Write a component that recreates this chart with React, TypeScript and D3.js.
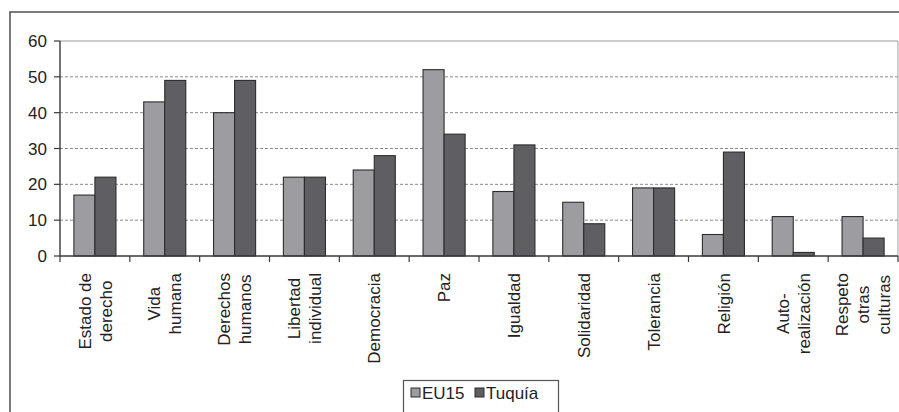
import React from "react";
import * as d3 from "d3";

const categories = [
  "Estado de\nderecho",
  "Vida\nhumana",
  "Derechos\nhumanos",
  "Libertad\nindividual",
  "Democracia",
  "Paz",
  "Igualdad",
  "Solidaridad",
  "Tolerancia",
  "Religión",
  "Auto-\nrealización",
  "Respeto\notras\nculturas",
];
const seriesNames = ["EU15", "Tuquía"];
const eu15 = [17, 43, 40, 22, 24, 52, 18, 15, 19, 6, 11, 11];
const turquia = [22, 49, 49, 22, 28, 34, 31, 9, 19, 29, 1, 5];
const yTicks = [0, 10, 20, 30, 40, 50, 60];

const W = 899;
const H = 412;
const FONT = "'Liberation Sans', Arial, Helvetica, sans-serif";
const FS = 17;
const colors = ["#9d9da1", "#5f5f63"];

function measure(text: string): number {
  if (typeof document === "undefined") return text.length * FS * 0.55;
  const c = document.createElement("canvas");
  const ctx = c.getContext("2d");
  if (!ctx) return text.length * FS * 0.55;
  ctx.font = `${FS}px ${FONT}`;
  return ctx.measureText(text).width;
}

export default function App() {
  const left = 60;
  const right = 898;
  const top = 41;
  const bottom = 256;

  const x0 = d3.scaleBand<number>().domain(d3.range(categories.length)).range([left, right]).padding(0);
  const x1 = d3
    .scaleBand<string>()
    .domain(seriesNames)
    .range([0, x0.bandwidth()])
    .paddingInner(0)
    .paddingOuter(0.66);
  const y = d3.scaleLinear().domain([0, 60]).range([bottom, top]);
  const values = [eu15, turquia];

  const lineH = 21;
  const labelTop = 273;

  return (
    <svg
      width={W}
      height={H}
      style={{ position: "absolute", left: 0, top: 0, background: "#fff" }}
      fontFamily={FONT}
    >
      <rect x={0} y={0} width={W} height={H} fill="#fff" />
      {/* outer chart border */}
      <rect x={10} y={12} width={W + 20} height={H + 20} fill="none" stroke="#5a5a5a" strokeWidth={1.6} />

      {/* gridlines */}
      {yTicks
        .filter((t) => t > 0 && t < 60)
        .map((t) => (
          <line
            key={"g" + t}
            x1={left}
            x2={right}
            y1={y(t)}
            y2={y(t)}
            stroke="#8a8a8a"
            strokeWidth={1}
            strokeDasharray="3,2"
          />
        ))}
      {/* plot area top and right border */}
      <line x1={left} x2={right} y1={y(60)} y2={y(60)} stroke="#9a9a9a" strokeWidth={1.2} />
      <line x1={right} x2={right} y1={top} y2={bottom} stroke="#b0b0b0" strokeWidth={1.2} />

      {/* bars */}
      {categories.map((c, i) => (
        <g key={"b" + i}>
          {seriesNames.map((s, j) => {
            const v = values[j][i];
            const bx = (x0(i) as number) + (x1(s) as number);
            return (
              <rect
                key={s}
                x={bx}
                y={y(v)}
                width={x1.bandwidth()}
                height={bottom - y(v)}
                fill={colors[j]}
                stroke="#2c2c2c"
                strokeWidth={1.1}
              />
            );
          })}
        </g>
      ))}

      {/* axes */}
      <line x1={left} x2={left} y1={top} y2={bottom} stroke="#3a3a3a" strokeWidth={1.4} />
      <line x1={left} x2={right} y1={bottom} y2={bottom} stroke="#3a3a3a" strokeWidth={1.4} />
      {yTicks.map((t) => (
        <g key={"yt" + t}>
          <line x1={left - 6} x2={left} y1={y(t)} y2={y(t)} stroke="#3a3a3a" strokeWidth={1.2} />
          <text
            x={left - 13}
            y={y(t)}
            dy="0.36em"
            textAnchor="end"
            fontSize={FS}
            fill="#222"
          >
            {t}
          </text>
        </g>
      ))}
      {d3.range(categories.length + 1).map((i) => {
        const xx = i < categories.length ? (x0(i) as number) : right;
        return (
          <line key={"xt" + i} x1={xx} x2={xx} y1={bottom} y2={bottom + 6} stroke="#3a3a3a" strokeWidth={1.2} />
        );
      })}

      {/* category labels */}
      {categories.map((c, i) => {
        const lines = c.split("\n");
        const maxW = Math.max(...lines.map(measure));
        const cx = (x0(i) as number) + x0.bandwidth() / 2;
        const cy = labelTop + maxW / 2;
        return (
          <g key={"l" + i}>
            {lines.map((ln, k) => {
              const lx = cx + (k - (lines.length - 1) / 2) * lineH;
              return (
                <text
                  key={k}
                  transform={`translate(${lx},${cy}) rotate(-90)`}
                  dy="0.36em"
                  textAnchor="middle"
                  fontSize={FS}
                  fill="#222"
                >
                  {ln}
                </text>
              );
            })}
          </g>
        );
      })}

      {/* legend */}
      <rect x={403.5} y={380.5} width={155} height={40} fill="#fff" stroke="#555" strokeWidth={1.2} />
      {seriesNames.map((s, j) => {
        const sx = j === 0 ? 411 : 475;
        return (
          <g key={"lg" + s}>
            <rect x={sx} y={388} width={9} height={9} fill={colors[j]} stroke="#2c2c2c" strokeWidth={1} />
            <text x={sx + 11} y={392.5} dy="0.36em" fontSize={FS} fill="#222">
              {s}
            </text>
          </g>
        );
      })}
    </svg>
  );
}
